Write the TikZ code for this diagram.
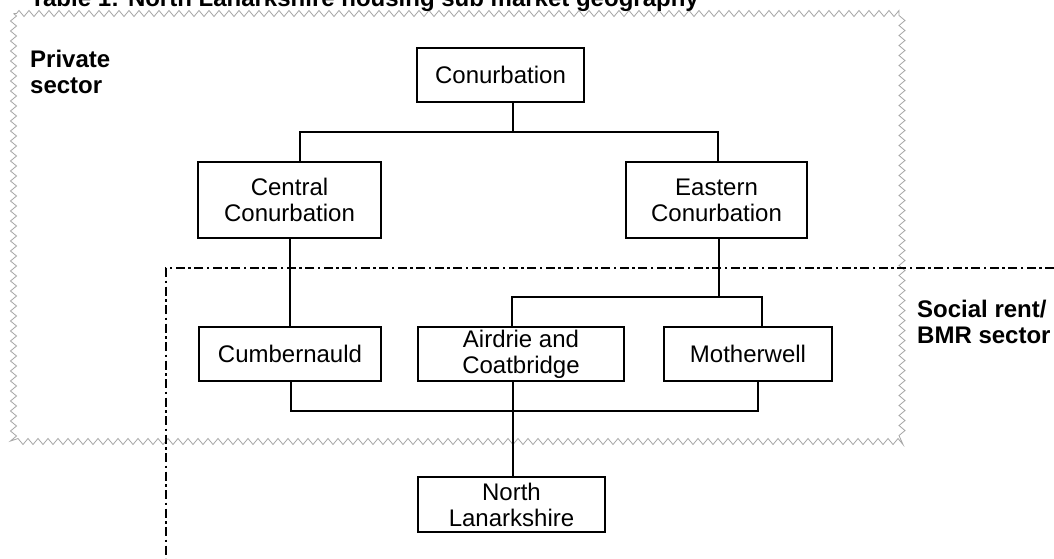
\documentclass[tikz,border=0pt]{standalone}
\usepackage{fontspec}
\setmainfont{Liberation Sans}
\usetikzlibrary{decorations.pathmorphing}
\begin{document}
\begin{tikzpicture}[x=1pt,y=-1pt,
  box/.style={draw, line width=2.3pt, align=center, inner sep=0pt, font=\fontsize{24}{26}\selectfont},
  conn/.style={line width=2.3pt},
  lbl/.style={font=\bfseries\fontsize{24}{26}\selectfont, align=left, inner sep=0pt},
  zz/.style={draw=black!35, line width=0.8pt, decorate, decoration={zigzag, segment length=10pt, amplitude=3pt}},
  dd/.style={line width=2.6pt, dash pattern=on 9pt off 3.5pt on 2.5pt off 3.5pt}]
\useasboundingbox (0,0) rectangle (1054,558);
\fill[white] (0,0) rectangle (1054,558);
% private sector outline
\draw[zz] (13.5,13.5) rectangle (902,441.5);
% social rent outline
\coordinate (s1) at (1054,268);
\coordinate (s2) at (166,268);
\coordinate (s3) at (166,558);
\draw[dd] (s1) -- (s2) -- (s3);
% boxes
\node[box, minimum width=167pt, minimum height=54pt] (conurb) at (500.5,75) {Conurbation};
\node[box, minimum width=183pt, minimum height=76pt] (central) at (289.5,200) {Central\\Conurbation};
\node[box, minimum width=181pt, minimum height=76pt] (eastern) at (716.5,200) {Eastern\\Conurbation};
\node[box, minimum width=182pt, minimum height=54pt] (cumb) at (290,354) {Cumbernauld};
\node[box, minimum width=206pt, minimum height=54pt] (airdrie) at (521,354) {Airdrie and\\Coatbridge};
\node[box, minimum width=168pt, minimum height=54pt] (mother) at (748,354) {Motherwell};
\node[box, minimum width=187pt, minimum height=55pt] (north) at (511.5,504.5) {North\\Lanarkshire};
% connectors
\coordinate (cbar) at (513,132);
\coordinate (cbarL) at (300,132);
\coordinate (cbarR) at (718,132);
\draw[conn] (conurb.south -| cbar) -- (cbar);
\draw[conn] (central.north -| cbarL) -- (cbarL) -- (cbarR) -- (eastern.north -| cbarR);
\draw[conn] (cumb.north |- central.south) -- (cumb.north);
\coordinate (ebar) at (719,297);
\coordinate (ebarL) at (512,297);
\coordinate (ebarR) at (762,297);
\draw[conn] (eastern.south -| ebar) -- (ebar);
\draw[conn] (airdrie.north -| ebarL) -- (ebarL) -- (ebarR) -- (mother.north -| ebarR);
\coordinate (bbarL) at (291,411);
\coordinate (bbarR) at (758,411);
\coordinate (bbarM) at (513,411);
\draw[conn] (cumb.south -| bbarL) -- (bbarL) -- (bbarR) -- (mother.south -| bbarR);
\draw[conn] (airdrie.south -| bbarM) -- (north.north -| bbarM);
% labels
\node[lbl, anchor=base west] (priv) at (30,93) {Private\\sector};
\node[lbl, anchor=base west] (soc) at (917,343) {Social rent/\\BMR sector};
\node[font=\bfseries\fontsize{24}{26}\selectfont, anchor=base west, inner sep=0pt] (title) at (30,6.5) {Table 1: North Lanarkshire housing sub market geography};
\end{tikzpicture}
\end{document}
